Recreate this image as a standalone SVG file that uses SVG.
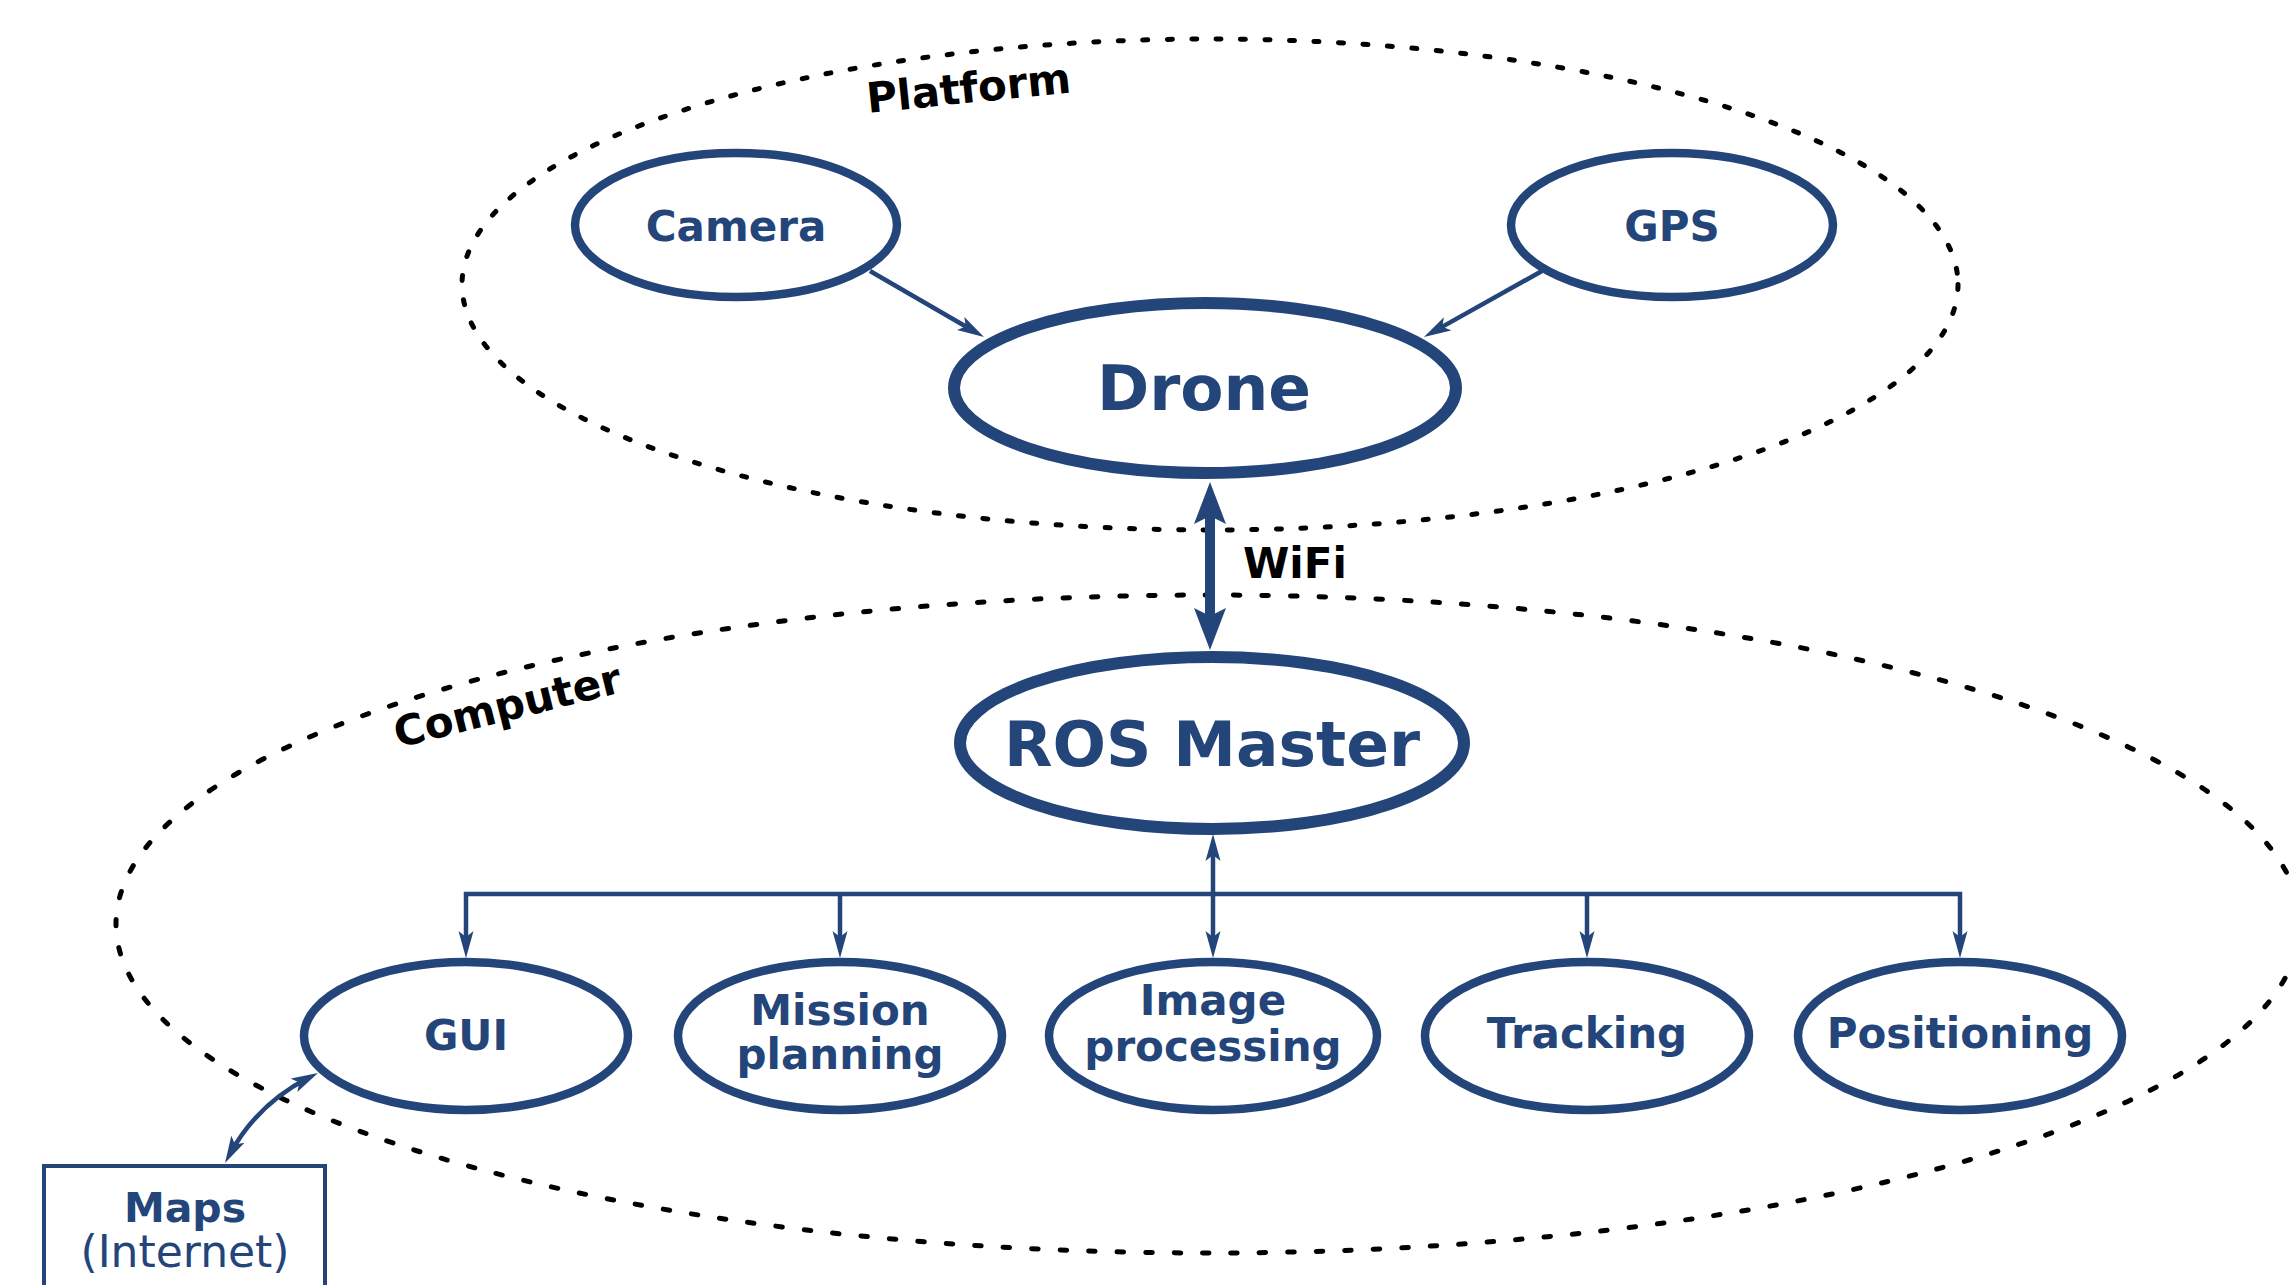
<svg xmlns="http://www.w3.org/2000/svg" width="2291" height="1285" viewBox="0 0 2291 1285">
<style>
.grp{fill:none;stroke:#000;stroke-width:5;stroke-linecap:round}
.nd{fill:#fff;stroke:#23457a;stroke-width:8.5}
.big{stroke-width:12}
.t{font-family:"DejaVu Sans",Verdana,sans-serif;font-weight:bold;fill:#23457a;text-anchor:middle}
.lbl{font-family:"DejaVu Sans",Verdana,sans-serif;font-weight:bold;fill:#000;font-size:42px}
.c{fill:none;stroke:#23457a;stroke-width:4.5}
</style>
<defs>
<marker id="ah" markerUnits="userSpaceOnUse" markerWidth="30" markerHeight="16" viewBox="0 0 30 16" refX="17" refY="8" orient="auto-start-reverse">
<path d="M0,0.5 L27,8 L0,15.5 L6,8 z" fill="#23457a"/>
</marker>
<marker id="bh" markerUnits="userSpaceOnUse" markerWidth="44" markerHeight="34" viewBox="0 0 44 34" refX="27" refY="17" orient="auto-start-reverse">
<path d="M0,1 L42,17 L0,33 L8,17 z" fill="#23457a"/>
</marker>
</defs>
<rect width="2291" height="1285" fill="#fff"/>
<g id="platform">
<ellipse class="grp" cx="1210" cy="284.5" rx="748" ry="245.5" stroke-dasharray="5 19.5"/>
<text class="lbl" x="868" y="113" transform="rotate(-5.8 868 113)">Platform</text>
</g>
<g id="computer">
<ellipse class="grp" cx="1208" cy="924" rx="1092" ry="329" stroke-dasharray="6.5 22"/>
<text class="lbl" x="398" y="748" transform="rotate(-14 398 748)">Computer</text>
</g>
<g id="connectors">
<line class="c" x1="870" y1="271" x2="975.3" y2="332" marker-end="url(#ah)"/>
<line class="c" x1="1542" y1="271" x2="1432.7" y2="332.1" marker-end="url(#ah)"/>
<line x1="1210" y1="497" x2="1210" y2="635" stroke="#23457a" stroke-width="10" marker-start="url(#bh)" marker-end="url(#bh)"/>
<path class="c" d="M466,948 L466,894 L1960,894 L1960,948" marker-start="url(#ah)" marker-end="url(#ah)"/>
<line class="c" x1="840" y1="894" x2="840" y2="948" marker-end="url(#ah)"/>
<line class="c" x1="1587" y1="894" x2="1587" y2="948" marker-end="url(#ah)"/>
<line class="c" x1="1213" y1="844" x2="1213" y2="948" marker-start="url(#ah)" marker-end="url(#ah)"/>
<path class="c" d="M229.8,1154.2 Q257,1104 309.1,1077.5" marker-start="url(#ah)" marker-end="url(#ah)"/>
</g>
<text class="lbl" x="1243" y="578">WiFi</text>
<g id="camera">
<ellipse class="nd" cx="736" cy="225" rx="161" ry="72"/>
<text class="t" x="736" y="241" font-size="42">Camera</text>
</g>
<g id="gps">
<ellipse class="nd" cx="1672" cy="225" rx="161" ry="72"/>
<text class="t" x="1672" y="241" font-size="42">GPS</text>
</g>
<g id="drone">
<ellipse class="nd big" cx="1205" cy="388" rx="251" ry="85"/>
<text class="t" x="1204" y="410" font-size="63">Drone</text>
</g>
<g id="ros-master">
<ellipse class="nd big" cx="1212" cy="743" rx="252" ry="86"/>
<text class="t" x="1212" y="766" font-size="63">ROS Master</text>
</g>
<g id="gui">
<ellipse class="nd" cx="466" cy="1036" rx="162" ry="74"/>
<text class="t" x="466" y="1050" font-size="42">GUI</text>
</g>
<g id="mission-planning">
<ellipse class="nd" cx="840" cy="1036" rx="162" ry="74"/>
<text class="t" x="840" y="1025" font-size="42">Mission</text>
<text class="t" x="840" y="1069" font-size="42">planning</text>
</g>
<g id="image-processing">
<ellipse class="nd" cx="1213" cy="1036" rx="164" ry="74"/>
<text class="t" x="1213" y="1015" font-size="42">Image</text>
<text class="t" x="1213" y="1061" font-size="42">processing</text>
</g>
<g id="tracking">
<ellipse class="nd" cx="1587" cy="1036" rx="162" ry="74"/>
<text class="t" x="1587" y="1048" font-size="42">Tracking</text>
</g>
<g id="positioning">
<ellipse class="nd" cx="1960" cy="1036" rx="162" ry="74"/>
<text class="t" x="1960" y="1048" font-size="42">Positioning</text>
</g>
<g id="maps">
<rect x="44" y="1166" width="281" height="160" fill="#fff" stroke="#23457a" stroke-width="4"/>
<text class="t" x="185" y="1222" font-size="41">Maps</text>
<text x="185" y="1267" font-size="44" font-family="'DejaVu Sans',Verdana,sans-serif" fill="#23457a" text-anchor="middle">(Internet)</text>
</g>
</svg>
